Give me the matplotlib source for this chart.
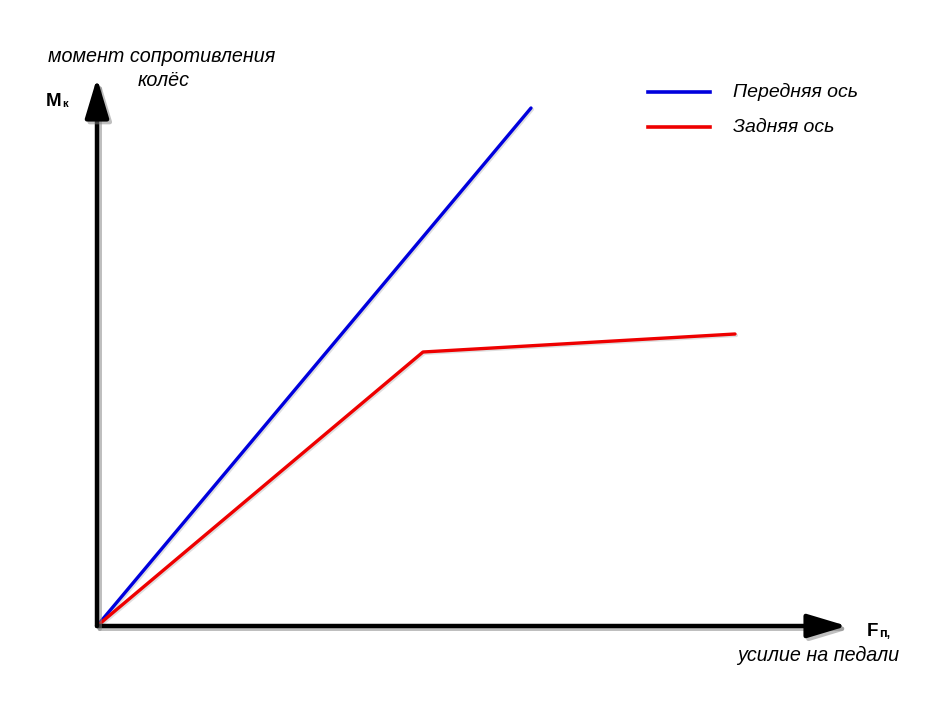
import matplotlib
matplotlib.use("Agg")
import matplotlib.pyplot as plt
import matplotlib.patheffects as pe

plt.rcParams['font.family'] = ['Liberation Sans', 'DejaVu Sans']

# data (arbitrary units)
front_x = [0.0, 4.34]
front_y = [0.0, 5.18]
rear_x = [0.0, 3.26, 6.38]
rear_y = [0.0, 2.74, 2.92]
legend_labels = ["Передняя ось", "Задняя ось"]
y_label = ["момент сопротивления", "колёс"]
x_label = "усилие на педали"

fig = plt.figure(figsize=(9.39, 7.03), dpi=100)
ax = fig.add_axes([0, 0, 1, 1])
ax.set_xlim(-0.97, 8.42)
ax.set_ylim(-0.77, 6.26)
ax.axis('off')

shadow = [pe.SimpleLineShadow(offset=(2, -2), shadow_color='gray', alpha=0.5), pe.Normal()]

# axes arrows
for end in [(7.50, 0.0), (0.0, 5.48)]:
    ax.annotate('', xy=end, xytext=(0, 0),
                arrowprops=dict(arrowstyle='-|>,head_length=1.1,head_width=0.33', lw=3.2,
                                color='black', mutation_scale=22, shrinkA=0, shrinkB=0,
                                path_effects=shadow))

lf, = ax.plot(front_x, front_y, color='#0000dd', lw=2.4, solid_capstyle='round',
              path_effects=[pe.SimpleLineShadow(offset=(1, -1), shadow_color='gray', alpha=0.25), pe.Normal()])
lr, = ax.plot(rear_x, rear_y, color='#ee0000', lw=2.4, solid_capstyle='round',
              path_effects=[pe.SimpleLineShadow(offset=(1, -1), shadow_color='gray', alpha=0.25), pe.Normal()])

# legend (manual)
trans = ax.transAxes
for i, (lab, col) in enumerate(zip(legend_labels, ['#0000dd', '#ee0000'])):
    yy = 1 - (92 + 35 * i) / 703
    ax.plot([648 / 939, 710 / 939], [yy, yy], color=col, lw=2.6, transform=trans)
    ax.text(733 / 939, yy, lab, transform=trans, fontsize=14, style='italic',
            va='center', ha='left')

ax.text(162 / 939, 1 - 57 / 703, y_label[0], transform=trans, fontsize=14.2,
        style='italic', ha='center', va='center')
ax.text(164 / 939, 1 - 80 / 703, y_label[1], transform=trans, fontsize=14.2,
        style='italic', ha='center', va='center')
ax.text(46 / 939, 1 - 102 / 703, 'M', transform=trans, fontsize=13.5,
        weight='bold', ha='left', va='center')
ax.text(62 / 939, 1 - 104 / 703, 'к', transform=trans, fontsize=8,
        weight='bold', ha='left', va='center')
ax.text(867 / 939, 1 - 632 / 703, 'F', transform=trans, fontsize=13.5,
        weight='bold', ha='left', va='center')
ax.text(879 / 939, 1 - 634 / 703, 'п,', transform=trans, fontsize=9,
        weight='bold', ha='left', va='center')
ax.text(818 / 939, 1 - 655 / 703, x_label, transform=trans, fontsize=14.2,
        style='italic', ha='center', va='center')

fig.savefig('out.png', dpi=100, facecolor='white')
